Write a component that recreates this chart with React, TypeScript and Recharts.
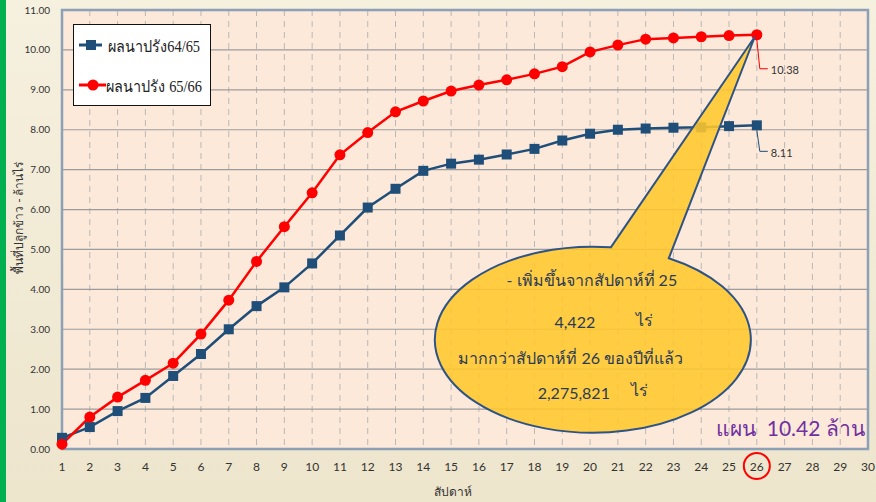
import React from "react";
import {
  CartesianGrid,
  LabelList,
  Line,
  LineChart,
  ReferenceArea,
  ReferenceDot,
  XAxis,
  YAxis,
} from "recharts";

// weeks 1..26 of the dry-season planting
const weeks = [1, 2, 3, 4, 5, 6, 7, 8, 9, 10, 11, 12, 13, 14, 15, 16, 17, 18, 19, 20, 21, 22, 23, 24, 25, 26];
const lastYear = [0.28, 0.55, 0.95, 1.28, 1.83, 2.38, 3.0, 3.58, 4.05, 4.65, 5.35, 6.05, 6.52, 6.97, 7.15, 7.25, 7.38, 7.52, 7.73, 7.9, 8.0, 8.03, 8.05, 8.06, 8.09, 8.11];
const thisYear = [0.12, 0.8, 1.3, 1.72, 2.15, 2.88, 3.73, 4.7, 5.57, 6.42, 7.37, 7.93, 8.45, 8.72, 8.97, 9.12, 9.25, 9.4, 9.58, 9.95, 10.12, 10.27, 10.3, 10.33, 10.36, 10.38];
const xTicks = [1, 2, 3, 4, 5, 6, 7, 8, 9, 10, 11, 12, 13, 14, 15, 16, 17, 18, 19, 20, 21, 22, 23, 24, 25, 26, 27, 28, 29, 30];
const yTicks = [0, 1, 2, 3, 4, 5, 6, 7, 8, 9, 10, 11];

const seriesNames = ["ผลนาปรัง64/65", "ผลนาปรัง 65/66"];
const calloutLines = ["- เพิ่มขึ้นจากสัปดาห์ที่ 25", "4,422", "มากกว่าสัปดาห์ที่ 26 ของปีที่แล้ว", "2,275,821"];
const unit = "ไร่";
const currentWeek = 26;

const data = weeks.map((w, i) => ({ week: w, a: lastYear[i], b: thisYear[i] }));

const BLUE = "#1F4E79";
const RED = "#FF0000";
const tickFont = "Lato, 'Liberation Sans', sans-serif";

function XTick(props: any) {
  const { x, y, payload } = props;
  return (
    <g>
      <text x={x} y={y + 11} textAnchor="middle" dominantBaseline="central" fontSize={12} fill="#333" fontFamily={tickFont}>
        {payload.value}
      </text>
      {payload.value === currentWeek && (
        <circle cx={x} cy={y + 11} r={13} fill="none" stroke={RED} strokeWidth={2} />
      )}
    </g>
  );
}

function EndLabel(color: string, drop: number) {
  return (props: any) => {
    const { x, y, value, index } = props;
    if (index !== weeks.length - 1) return null;
    return (
      <g>
        <polyline
          points={`${x},${y + 5} ${x + 3},${y + drop} ${x + 11},${y + drop}`}
          fill="none"
          stroke={color}
          strokeWidth={1}
        />
        <text x={x + 14} y={y + drop + 1} dominantBaseline="central" fontSize={11} fill="#333" fontFamily={tickFont}>
          {Number(value).toFixed(2)}
        </text>
      </g>
    );
  };
}

function Callout(props: any) {
  const { cx, cy } = props;
  const ex = cx - 164;
  const ey = cy + 305;
  const rx = 158;
  const ry = 93;
  const ax = ex + 18;
  const ay = ey - ry * Math.sqrt(1 - (18 / rx) ** 2);
  const bx = ex + 76;
  const by = ey - ry * Math.sqrt(1 - (76 / rx) ** 2);
  const d = `M${ax},${ay} L${cx - 2},${cy + 2} L${bx},${by} A${rx},${ry} 0 1 1 ${ax},${ay} Z`;
  const txt = { fontSize: 16, fill: "#2A3B55", fontFamily: tickFont, dominantBaseline: "central" as const };
  return (
    <g>
      <path d={d} fill="#FFC72C" fillOpacity={0.88} stroke="#2E5485" strokeWidth={2} />
      <text x={ex - 1} y={ey - 60} textAnchor="middle" {...txt}>{calloutLines[0]}</text>
      <text x={ex - 18} y={ey - 18} textAnchor="middle" {...txt}>{calloutLines[1]}</text>
      <text x={ex + 52} y={ey - 20} textAnchor="middle" {...txt}>{unit}</text>
      <text x={ex - 22} y={ey + 18} textAnchor="middle" {...txt}>{calloutLines[2]}</text>
      <text x={ex - 19} y={ey + 53} textAnchor="middle" {...txt}>{calloutLines[3]}</text>
      <text x={ex + 47} y={ey + 50} textAnchor="middle" {...txt}>{unit}</text>
    </g>
  );
}

function LegendBox() {
  return (
    <div
      style={{
        position: "absolute",
        left: 73,
        top: 24,
        width: 138,
        height: 82,
        background: "#fff",
        border: "1.5px solid #111",
        boxSizing: "border-box",
      }}
    >
      <svg width={136} height={80} style={{ position: "absolute", left: 0, top: 0 }}>
        <line x1={5} y1={20} x2={28} y2={20} stroke={BLUE} strokeWidth={3} />
        <rect x={12} y={15} width={10} height={10} fill={BLUE} />
        <line x1={5} y1={60} x2={32} y2={60} stroke={RED} strokeWidth={3} />
        <circle cx={19} cy={60} r={5.5} fill={RED} />
        <text x={34} y={21} dominantBaseline="central" fontSize={16} fill="#222" textLength={92} lengthAdjust="spacingAndGlyphs">
          {seriesNames[0]}
        </text>
        <text x={32} y={61} dominantBaseline="central" fontSize={16} fill="#222" textLength={96} lengthAdjust="spacingAndGlyphs">
          {seriesNames[1]}
        </text>
      </svg>
    </div>
  );
}

export default function App() {
  return (
    <div
      style={{
        position: "absolute",
        left: 0,
        top: 0,
        width: 876,
        height: 502,
        background: "linear-gradient(180deg, #F6F0DF 0%, #EDE5CC 100%)",
        overflow: "hidden",
      }}
    >
      <div style={{ position: "absolute", left: 0, top: 0, width: 6, height: 502, background: "#00B050" }} />
      <LineChart
        width={876}
        height={502}
        data={data}
        margin={{ top: 10, right: 8, left: 12, bottom: 23 }}
      >
        <CartesianGrid horizontal={false} vertical stroke="#B8B8B8" strokeDasharray="6 5" fill="#FDE9DA" />
        <CartesianGrid horizontal vertical={false} stroke="#9C9C9C" strokeWidth={1.2} />
        <XAxis
          dataKey="week"
          type="number"
          domain={[1, 30]}
          ticks={xTicks}
          interval={0}
          height={30}
          tick={<XTick />}
          tickLine={false}
          axisLine={false}
          tickSize={0}
          tickMargin={6}
          label={{ value: "สัปดาห์", position: "insideBottom", offset: -17, dx: -12, style: { fontSize: 12, fill: "#333" } }}
        />
        <YAxis
          width={50}
          type="number"
          domain={[0, 11]}
          ticks={yTicks}
          interval={0}
          tickFormatter={(v: number) => v.toFixed(2)}
          tick={{ fontSize: 10, fill: "#333", fontFamily: tickFont }}
          tickLine={false}
          axisLine={false}
          tickSize={0}
          tickMargin={12}
          label={{ value: "พื้นที่ปลูกข้าว - ล้านไร่", angle: -90, position: "insideLeft", dx: 2, dy: -12, style: { fontSize: 12, fill: "#333", textAnchor: "middle" } }}
        />
        <ReferenceArea x1={1} x2={30} y1={0} y2={11} fill="none" stroke="#8DA0B6" strokeWidth={2.5} ifOverflow="visible" />
        <Line
          dataKey="a"
          name={seriesNames[0]}
          stroke={BLUE}
          strokeWidth={2.5}
          isAnimationActive={false}
          dot={(p: any) => <rect key={p.index} x={p.cx - 5} y={p.cy - 5} width={10} height={10} fill={BLUE} />}
        >
          <LabelList dataKey="a" content={EndLabel(BLUE, 26)} />
        </Line>
        <Line
          dataKey="b"
          name={seriesNames[1]}
          stroke={RED}
          strokeWidth={2.5}
          isAnimationActive={false}
          dot={{ r: 5.5, fill: RED, stroke: RED, strokeWidth: 0 }}
        >
          <LabelList dataKey="b" content={EndLabel(RED, 34)} />
        </Line>
        <ReferenceDot x={currentWeek} y={thisYear[thisYear.length - 1]} r={0} shape={<Callout />} ifOverflow="visible" />
      </LineChart>
      <LegendBox />
      <div
        style={{
          position: "absolute",
          left: 716,
          top: 412,
          fontFamily: tickFont,
          fontSize: 21,
          color: "#7030A0",
          whiteSpace: "pre",
        }}
      >
        แผน  10.42 ล้าน
      </div>
    </div>
  );
}
